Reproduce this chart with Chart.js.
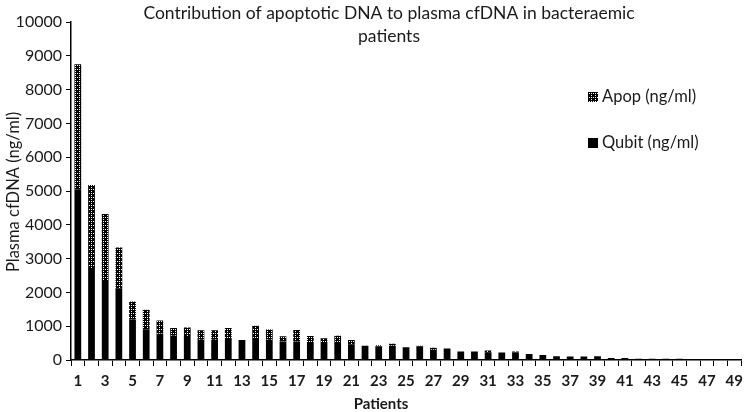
<!DOCTYPE html>
<html>
<head>
<meta charset="utf-8">
<script src="https://cdn.jsdelivr.net/npm/chart.js@4"></script>
<style>
html,body{margin:0;padding:0;background:#fff;}
#wrap{width:749px;height:412px;position:relative;}
</style>
</head>
<body>
<div id="wrap"><canvas id="c" width="749" height="412"></canvas></div>
<script>
const patients = Array.from({length:49},(_,i)=>String(i+1));
const qubit = [5050,2720,2370,2110,1200,910,780,720,680,600,600,620,590,650,600,550,550,500,500,500,450,420,400,420,380,390,300,340,250,250,230,220,220,180,150,110,100,100,110,60,60,40,40,40,40,0,0,0,0];
const apop  = [3700,2460,1950,1220,530,580,390,230,285,280,280,325,0,360,300,150,340,210,140,215,140,0,40,60,0,30,60,0,0,0,50,0,30,0,0,0,0,0,0,0,0,0,0,0,0,0,0,0,0];
const yTicks = [0,1000,2000,3000,4000,5000,6000,7000,8000,9000,10000];
const titleLines = ['Contribution of apoptotic DNA to plasma cfDNA in bacteraemic','patients'];
const yTitle = 'Plasma cfDNA (ng/ml)';
const xTitle = 'Patients';
const seriesNames = ['Qubit (ng/ml)','Apop (ng/ml)'];

function makePattern(){
  const p = document.createElement('canvas');
  p.width = 4; p.height = 4;
  const g = p.getContext('2d');
  g.fillStyle = '#000'; g.fillRect(0,0,4,4);
  g.fillStyle = '#fff';
  [[1,1],[3,3],[3,1]].forEach(([x,y])=>g.fillRect(x,y,1,1));
  return document.getElementById('c').getContext('2d').createPattern(p,'repeat');
}
const pattern = makePattern();
const TXT = '#1a1a1a';
const FONT = 'Lato, "Open Sans", sans-serif';

const decor = {
  id:'decor',
  afterDraw(chart){
    const ctx = chart.ctx;
    ctx.save();
    ctx.fillStyle = TXT;
    ctx.textAlign = 'center';
    ctx.textBaseline = 'middle';
    ctx.font = '17.5px ' + FONT;
    ctx.fillText(titleLines[0], 389, 13);
    ctx.fillText(titleLines[1], 389, 36);
    ctx.font = 'bold 15px ' + FONT;
    ctx.fillText(xTitle, 381, 404);
    ctx.save();
    ctx.translate(14, 192);
    ctx.rotate(-Math.PI/2);
    ctx.font = '16.5px ' + FONT;
    ctx.fillText(yTitle, 0, 0);
    ctx.restore();
    // legend
    const items = [
      {label: chart.data.datasets[1].label, fill: chart.data.datasets[1].backgroundColor, y: 97},
      {label: chart.data.datasets[0].label, fill: chart.data.datasets[0].backgroundColor, y: 143}
    ];
    ctx.textAlign = 'left';
    ctx.font = '16.5px ' + FONT;
    items.forEach(it=>{
      ctx.fillStyle = it.fill;
      ctx.fillRect(588, it.y-5, 10, 10);
      ctx.fillStyle = TXT;
      ctx.fillText(it.label, 602, it.y);
    });
    ctx.restore();
  }
};

new Chart(document.getElementById('c'), {
  type:'bar',
  data:{
    labels: patients,
    datasets:[
      {label: seriesNames[0], data: qubit, backgroundColor:'#000', barPercentage:0.52, categoryPercentage:0.95},
      {label: seriesNames[1], data: apop, backgroundColor: pattern, barPercentage:0.52, categoryPercentage:0.95}
    ]
  },
  options:{
    responsive:false,
    animation:false,
    layout:{padding:{top:22,right:1,left:0,bottom:0}},
    plugins:{legend:{display:false}, title:{display:false}, tooltip:{enabled:false}},
    scales:{
      x:{
        stacked:true,
        grid:{display:true, drawOnChartArea:false, offset:true, tickLength:6, color:'#000', lineWidth:1},
        border:{display:true, color:'#000', width:1.5},
        ticks:{autoSkip:false, maxRotation:0, color:TXT, padding:6, font:{family:FONT, size:15, weight:'bold'},
          callback:(v,i)=> (i%2===0 ? patients[i] : '')},
        afterFit(s){ s.height = 52; }
      },
      y:{
        stacked:true,
        min:0, max:10000,
        afterBuildTicks(s){ s.ticks = yTicks.map(v=>({value:v})); },
        grid:{display:true, drawOnChartArea:false, tickLength:5, color:'#000', lineWidth:1},
        border:{display:true, color:'#000', width:1.5},
        ticks:{color:TXT, padding:4, font:{family:FONT, size:16}, callback:(v)=>String(v)},
        afterFit(s){ s.width = 71; }
      }
    }
  },
  plugins:[decor]
});
</script>
</body>
</html>
